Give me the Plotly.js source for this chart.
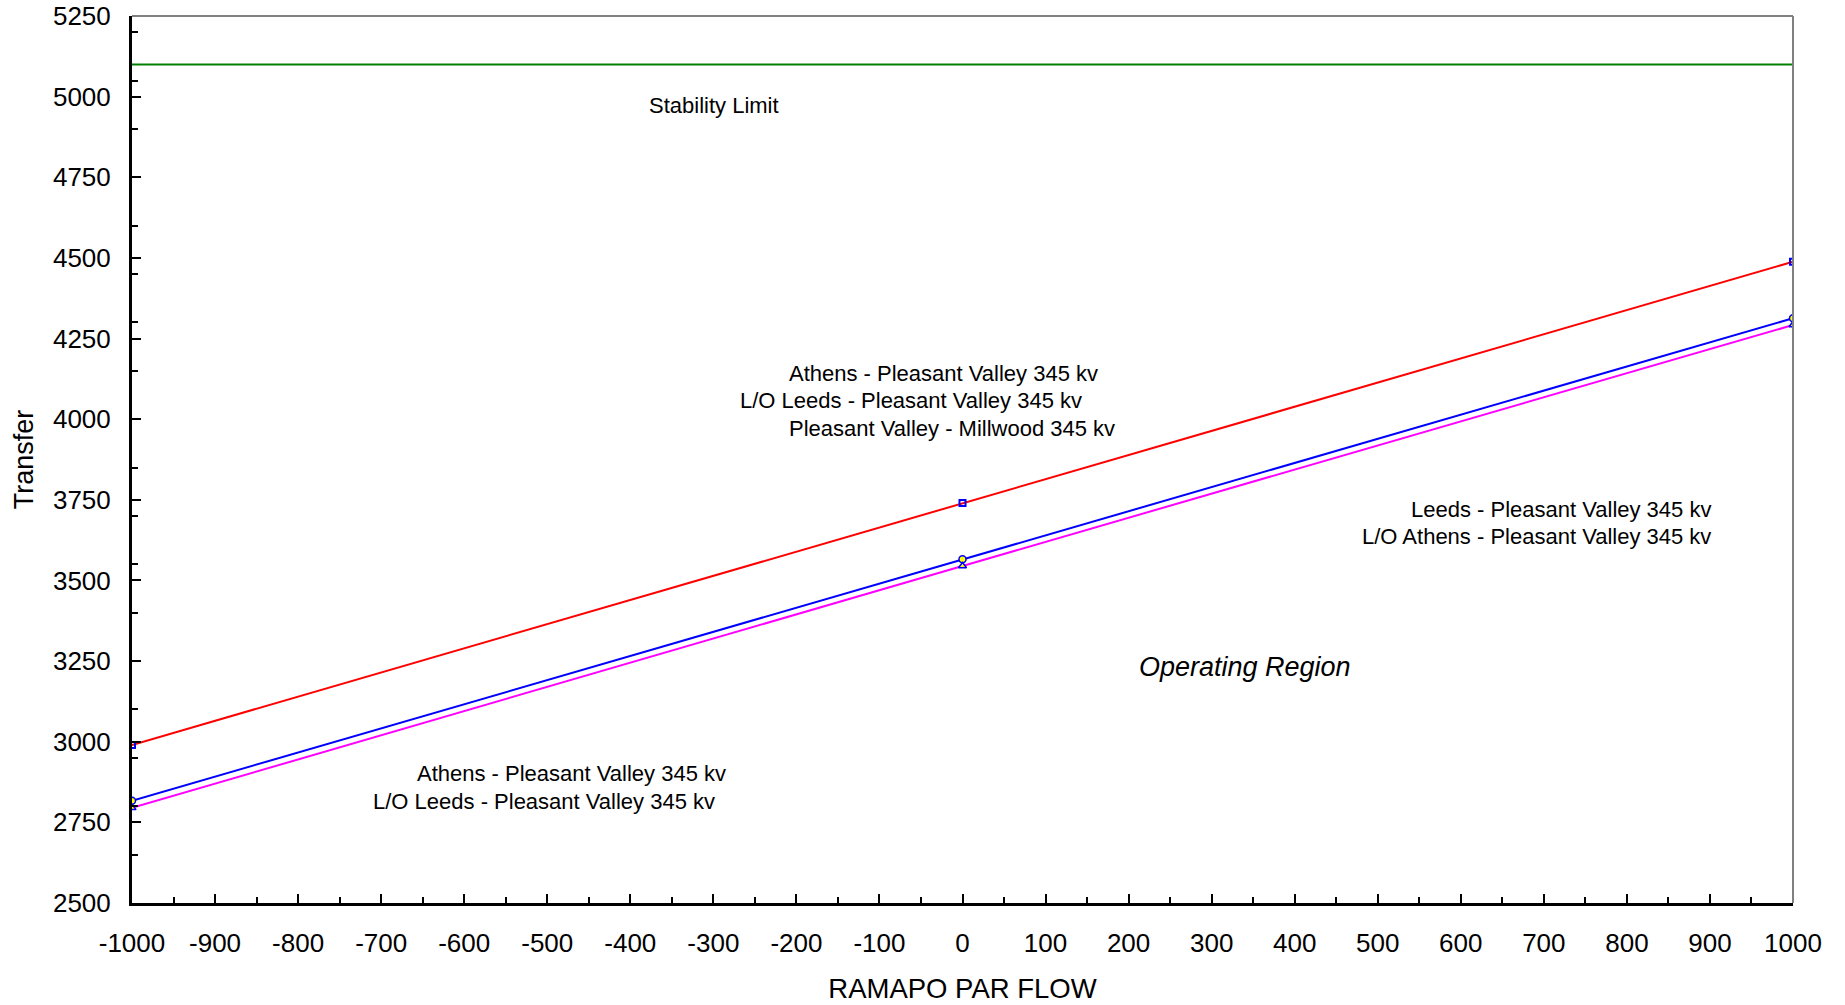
<!DOCTYPE html>
<html>
<head>
<meta charset="utf-8">
<script src="https://cdn.plot.ly/plotly-3.0.1.min.js"></script>
<style>
  html, body { margin: 0; padding: 0; background: #ffffff; }
  #chart { width: 1845px; height: 1005px; }
</style>
</head>
<body>
<div id="chart"></div>
<script>
// RAMAPO PAR flow (MW) at which each transfer limit was evaluated
const parFlow = [-1000, 0, 1000];

// Transfer limits for each contingency pair
const limitAthensLeedsMillwood = [2990, 3740, 4488];   // red
const limitLeedsAthens = [2817, 3566, 4313];           // blue
const limitAthensLeeds = [2795, 3545, 4292];           // magenta

// Stability limit (flat across the PAR range)
const stabilityRange = [-1000, 1000];
const stabilityLimit = [5100, 5100];

// X tick positions and their labels (plain hyphen for negatives)
const xTickVals = [-1000, -900, -800, -700, -600, -500, -400, -300, -200, -100,
                   0, 100, 200, 300, 400, 500, 600, 700, 800, 900, 1000];
const xTickText = ['-1000', '-900', '-800', '-700', '-600', '-500', '-400', '-300', '-200', '-100',
                   '0', '100', '200', '300', '400', '500', '600', '700', '800', '900', '1000'];

// Text labels on the plot
const labelText = [
  'Stability Limit',
  'Athens - Pleasant Valley 345 kv',
  'L/O Leeds - Pleasant Valley 345 kv',
  'Pleasant Valley - Millwood 345 kv',
  'Athens - Pleasant Valley 345 kv',
  'L/O Leeds - Pleasant Valley 345 kv',
  'Leeds - Pleasant Valley 345 kv',
  'L/O Athens - Pleasant Valley 345 kv',
  'Operating Region'
];

const FONT = 'Liberation Sans, Arial, Helvetica, sans-serif';

const traces = [
  {
    x: stabilityRange, y: stabilityLimit, mode: 'lines',
    line: { color: '#008000', width: 2 }, hoverinfo: 'skip'
  },
  {
    x: parFlow, y: limitAthensLeedsMillwood, mode: 'lines+markers',
    line: { color: '#ff0000', width: 2 },
    marker: { symbol: 'square-open', size: 6, color: '#0000ff', line: { width: 2, color: '#0000ff' } }
  },
  {
    x: parFlow, y: limitLeedsAthens, mode: 'lines+markers',
    line: { color: '#0000ff', width: 2 },
    marker: { symbol: 'circle', size: 7, color: '#ffff00', line: { width: 1.5, color: '#0000ff' } }
  },
  {
    x: parFlow, y: limitAthensLeeds, mode: 'lines+markers',
    line: { color: '#ff00ff', width: 2 },
    marker: { symbol: 'triangle-up', size: 7, color: '#ffff00', line: { width: 1.5, color: '#0000ff' } }
  }
];

function note(text, x, y, xanchor, extra) {
  return Object.assign({
    text: text, x: x, y: y, xref: 'x', yref: 'y',
    xanchor: xanchor, yanchor: 'middle', showarrow: false,
    font: { family: FONT, size: 22, color: '#000000' }
  }, extra || {});
}

const layout = {
  width: 1845, height: 1005,
  margin: { l: 132, r: 52, t: 16, b: 102, pad: 0 },
  paper_bgcolor: '#ffffff', plot_bgcolor: '#ffffff',
  showlegend: false,
  font: { family: FONT, color: '#000000' },
  xaxis: {
    range: [-1000, 1000], tickmode: 'array', tickvals: xTickVals, ticktext: xTickText,
    ticks: 'inside', ticklen: 9, tickwidth: 2, tickcolor: '#000000',
    minor: { tick0: -1000, dtick: 50, ticks: 'inside', ticklen: 6, tickwidth: 2, tickcolor: '#000000' },
    showgrid: false, zeroline: false,
    showline: true, linecolor: '#000000', linewidth: 3,
    tickfont: { family: FONT, size: 26, color: '#000000' },
    ticklabelstandoff: 15,
    title: { text: 'RAMAPO PAR FLOW', font: { family: FONT, size: 27.5, color: '#000000' }, standoff: 22 },
    automargin: false
  },
  yaxis: {
    range: [2500, 5250], tick0: 2500, dtick: 250,
    ticks: 'inside', ticklen: 9, tickwidth: 2, tickcolor: '#000000',
    minor: { tick0: 2500, dtick: 150, ticks: 'inside', ticklen: 6, tickwidth: 2, tickcolor: '#000000' },
    showgrid: false, zeroline: false,
    showline: true, linecolor: '#000000', linewidth: 3,
    tickfont: { family: FONT, size: 26, color: '#000000' },
    ticklabelstandoff: 13,
    title: { text: 'Transfer', font: { family: FONT, size: 27, color: '#000000' }, standoff: 12 },
    automargin: false
  },
  shapes: [
    // grey top and right frame edges
    { type: 'line', xref: 'paper', yref: 'paper', x0: 0, x1: 1, y0: 1, y1: 1, line: { color: '#808080', width: 2 } },
    { type: 'line', xref: 'paper', yref: 'paper', x0: 1, x1: 1, y0: 0, y1: 1, line: { color: '#808080', width: 2 } }
  ],
  annotations: [
    note(labelText[0], -299, 4971, 'center'),
    note(labelText[1], -211, 4142, 'left'),
    note(labelText[2], -270, 4057, 'left'),
    note(labelText[3], -211, 3970, 'left'),
    note(labelText[4], -659, 2902, 'left'),
    note(labelText[5], -712, 2816, 'left'),
    note(labelText[6], 904, 3720, 'right'),
    note(labelText[7], 904, 3636, 'right'),
    note(labelText[8], 340, 3231, 'center', { font: { family: FONT, size: 27, color: '#000000', style: 'italic' } })
  ]
};

Plotly.newPlot('chart', traces, layout, { staticPlot: true, displayModeBar: false });
</script>
</body>
</html>
